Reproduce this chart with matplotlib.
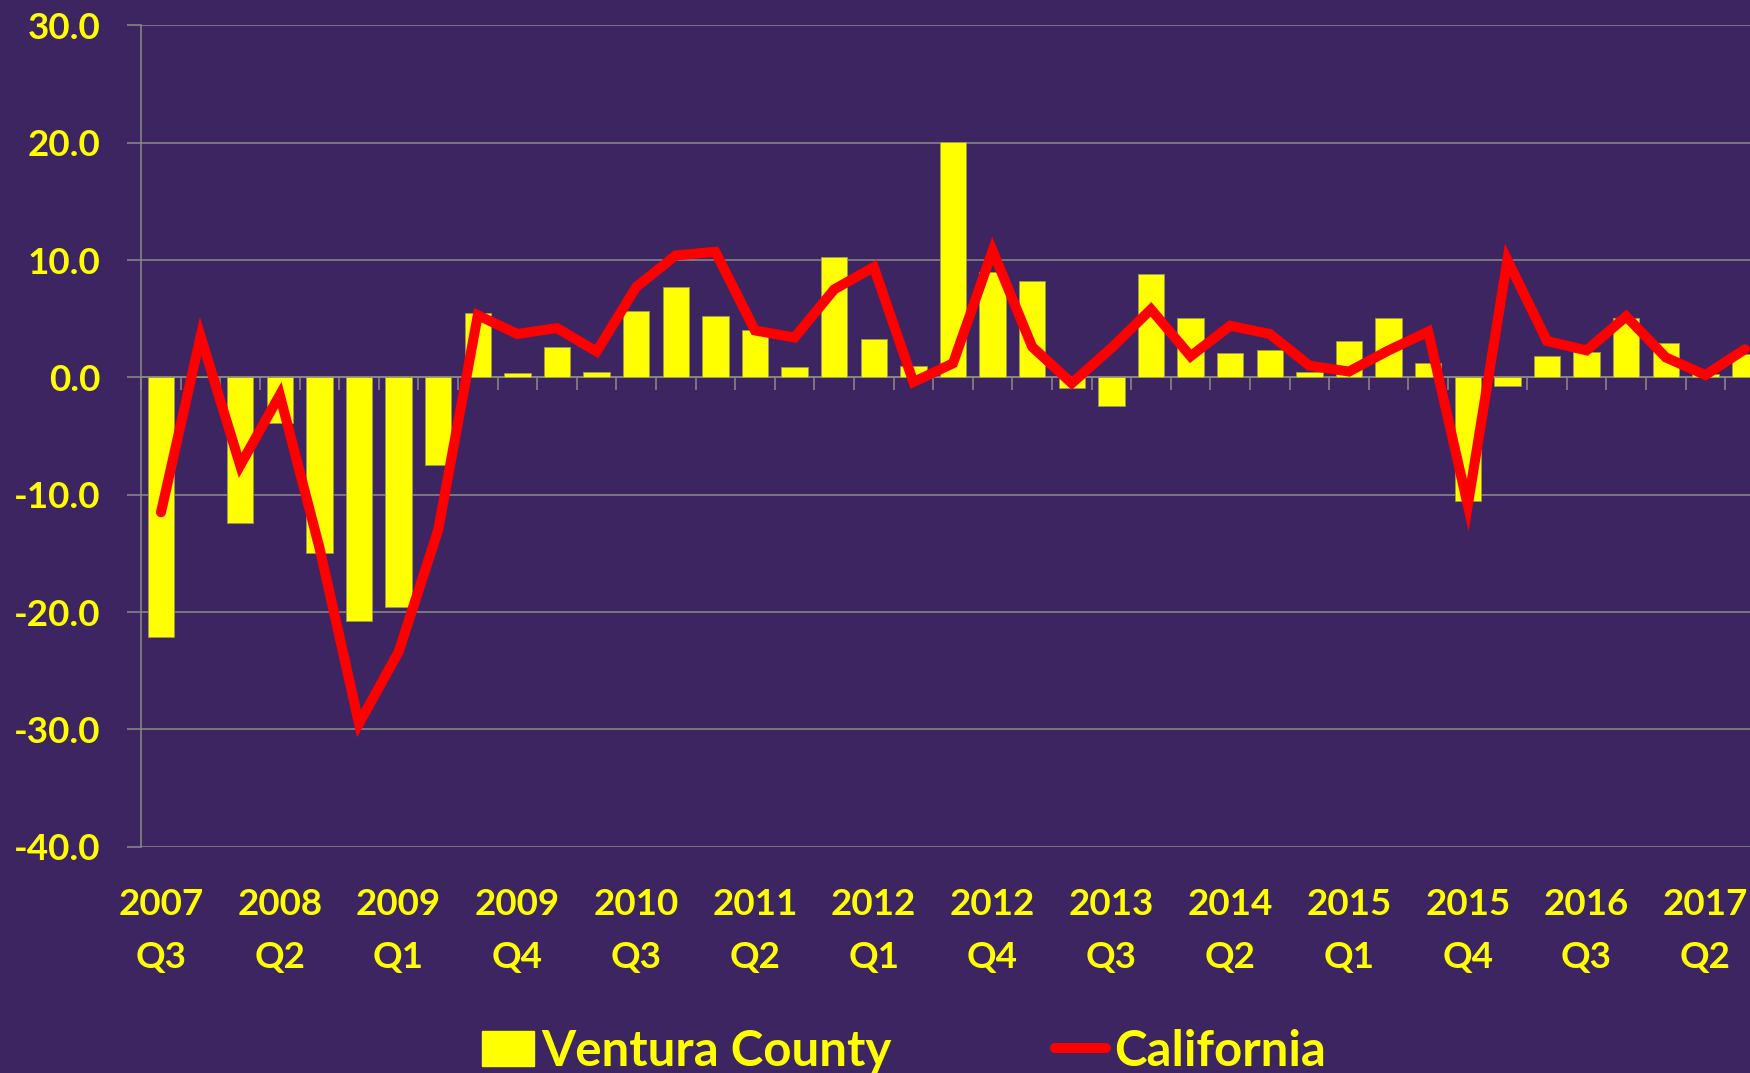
import matplotlib
matplotlib.use('Agg')
import matplotlib.pyplot as plt
import numpy as np
from matplotlib.patches import Patch
from matplotlib.lines import Line2D

years = [2007, 2007,
         2008, 2008, 2008, 2008,
         2009, 2009, 2009, 2009,
         2010, 2010, 2010, 2010,
         2011, 2011, 2011, 2011,
         2012, 2012, 2012, 2012,
         2013, 2013, 2013, 2013,
         2014, 2014, 2014, 2014,
         2015, 2015, 2015, 2015,
         2016, 2016, 2016, 2016,
         2017, 2017, 2017]
quarters = ["Q3", "Q4",
            "Q1", "Q2", "Q3", "Q4",
            "Q1", "Q2", "Q3", "Q4",
            "Q1", "Q2", "Q3", "Q4",
            "Q1", "Q2", "Q3", "Q4",
            "Q1", "Q2", "Q3", "Q4",
            "Q1", "Q2", "Q3", "Q4",
            "Q1", "Q2", "Q3", "Q4",
            "Q1", "Q2", "Q3", "Q4",
            "Q1", "Q2", "Q3", "Q4",
            "Q1", "Q2", "Q3"]

ventura = [-22.1, 0.0, -12.4, -3.9, -15.0, -20.8, -19.6, -7.5, 5.5, 0.4,
           2.6, 0.5, 5.7, 7.7, 5.2, 4.0, 0.9, 10.3, 3.3, 1.0,
           20.1, 9.0, 8.2, -0.9, -2.4, 8.8, 5.1, 2.1, 2.3, 0.5,
           3.1, 5.1, 1.2, -10.5, -0.7, 1.8, 2.2, 5.1, 2.9, 0.3,
           2.0]
california = [-11.5, 3.5, -7.5, -1.5, -14.5, -29.5, -23.4, -13.0, 5.3, 3.7,
              4.2, 2.2, 7.7, 10.4, 10.7, 4.0, 3.4, 7.5, 9.4, -0.4,
              1.2, 10.8, 2.6, -0.5, 2.5, 5.8, 1.8, 4.4, 3.7, 1.0,
              0.5, 2.3, 3.9, -10.9, 10.0, 3.1, 2.3, 5.2, 1.7, 0.2,
              2.4]

y_ticks = [-40, -30, -20, -10, 0, 10, 20, 30]
label_every = 3

BG = '#3C2560'
YELLOW = '#FFFF00'
GRID = '#878787'

plt.rcParams['axes.unicode_minus'] = False
plt.rcParams['font.family'] = ['Lato', 'DejaVu Sans']
tick_fs = 26.5
leg_fs = 35.5

DPI = 100
fig = plt.figure(figsize=(17.5, 10.73), dpi=DPI, facecolor=BG)
px = 72.0 / DPI

n = len(ventura)
x = np.arange(n)
ax_left = 141.2 / 1750
ax_w = (n * 39.6) / 1750
ax_bottom = (1073 - 846.7) / 1073
ax_h = (846.7 - 25.4) / 1073
ax = fig.add_axes([ax_left, ax_bottom, ax_w, ax_h], facecolor=BG)

ax.bar(x, ventura, width=0.667, color=YELLOW, edgecolor='#9a9a55',
       linewidth=0.6, zorder=2)
ax.plot(x, california, color='#FF0000', lw=10 * px, zorder=3,
        solid_capstyle='round', solid_joinstyle='miter')

ax.set_xlim(-0.5, n - 0.5)
ax.set_ylim(-40, 30)
ax.set_yticks(y_ticks)
ax.set_yticklabels([f"{v:.1f}" for v in y_ticks])
ax.yaxis.grid(True, color=GRID, lw=1.6 * px, zorder=0)
ax.set_axisbelow(True)

for s in ['top', 'right', 'bottom']:
    ax.spines[s].set_visible(False)
ax.spines['left'].set_color(GRID)
ax.spines['left'].set_linewidth(1.6 * px)

ax.tick_params(axis='y', direction='out', length=14 * px, width=1.6 * px,
               color=GRID, pad=27 * px, labelsize=tick_fs, labelcolor=YELLOW)
for t in ax.get_yticklabels():
    t.set_fontweight('bold')

lab_idx = x[::label_every]
ax.set_xticks(lab_idx)
ax.set_xticklabels([f"{years[i]}\n{quarters[i]}" for i in lab_idx],
                   linespacing=1.75)
ax.tick_params(axis='x', length=0, pad=41 * px, labelsize=tick_fs,
               labelcolor=YELLOW)
for t in ax.get_xticklabels():
    t.set_fontweight('bold')

sec = ax.secondary_xaxis(0, transform=ax.transData)
sec.set_xticks(np.arange(-0.5, n, 1.0))
sec.tick_params(axis='x', direction='out', length=13 * px, width=1.6 * px,
                color=GRID, labelbottom=False)
sec.spines['bottom'].set_color(GRID)
sec.spines['bottom'].set_linewidth(1.6 * px)

handles = [Patch(facecolor=YELLOW, edgecolor=YELLOW),
           Line2D([], [], color='#FF0000', lw=10 * px, solid_capstyle='round')]
leg = fig.legend(handles, ['Ventura County', 'California'], loc='center',
                 bbox_to_anchor=(904 / 1750, 22 / 1073), ncol=2, frameon=False,
                 prop={'family': ['Lato', 'DejaVu Sans'], 'weight': 'bold',
                       'size': leg_fs},
                 labelcolor=YELLOW, handlelength=1.05, handletextpad=0.15,
                 columnspacing=3.3, borderpad=0, borderaxespad=0)

fig.savefig('out.png', dpi=DPI, facecolor=BG)
